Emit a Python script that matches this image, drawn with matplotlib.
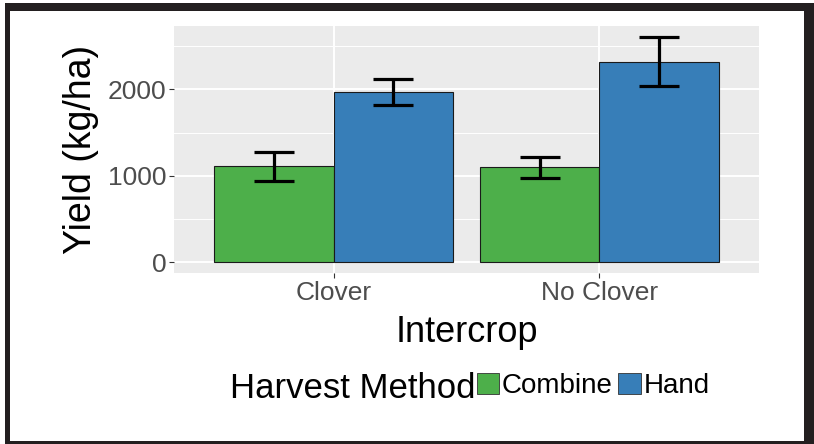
import matplotlib
matplotlib.use("Agg")
import matplotlib.pyplot as plt
from matplotlib.patches import Rectangle, Patch
import numpy as np

plt.rcParams['font.family'] = ['Liberation Sans', 'DejaVu Sans']

intercrops = ["Clover", "No Clover"]
methods = ["Combine", "Hand"]
yield_combine = [1110, 1096]
yield_hand = [1970, 2320]
err_combine = [170, 121]
err_hand = [148, 285]
colors = {"Combine": "#4DAF4A", "Hand": "#377EB8"}
yticks = [0, 1000, 2000]
yminor = [500, 1500, 2500]

W, H = 814, 444
fig = plt.figure(figsize=(W / 100, H / 100), dpi=100)

# outer frame
fc = "#231F20"
for (x0, y0, w, h) in [(5, 3, 809, 8), (5, 3, 5, 441), (804, 3, 10, 441), (5, 441, 809, 3)]:
    fig.patches.append(Rectangle((x0 / W, 1 - (y0 + h) / H), w / W, h / H,
                                 transform=fig.transFigure, facecolor=fc, edgecolor='none'))

ax = fig.add_axes([174 / W, 1 - 273 / H, (759 - 174) / W, (273 - 26) / H])
ax.set_facecolor("#EBEBEB")
for s in ax.spines.values():
    s.set_visible(False)

x = np.arange(1, len(intercrops) + 1)
bw = 0.45
series = [(yield_combine, err_combine, "Combine"), (yield_hand, err_hand, "Hand")]
for i, (vals, errs, name) in enumerate(series):
    pos = x + (i - 0.5) * bw
    ax.bar(pos, vals, width=bw, color=colors[name], edgecolor="#1a1a1a", linewidth=0.8, zorder=3)
    ax.errorbar(pos, vals, yerr=errs, fmt='none', ecolor='black', elinewidth=2.3,
                capsize=14.4, capthick=2.3, zorder=4)

ax.set_xlim(0.4, 2.6)
ax.set_ylim(-124, 2732)
ax.set_xticks(x)
ax.set_xticklabels(intercrops)
ax.set_yticks(yticks)
ax.set_yticks(yminor, minor=True)
ax.grid(True, which='major', color='white', linewidth=1.4, zorder=0)
ax.grid(True, which='minor', axis='y', color='white', linewidth=0.7, zorder=0)
ax.set_axisbelow(True)
ax.tick_params(axis='both', which='major', length=3.6, width=0.8, color='#333333',
               labelcolor='#4D4D4D', labelsize=19, pad=2)
ax.tick_params(axis='y', which='minor', length=0)
ax.set_ylabel("Yield (kg/ha)", fontsize=27, color='black', labelpad=6)
ax.set_xlabel("Intercrop", fontsize=26, color='black', labelpad=7)

# legend
fig.text(230 / W, 1 - 388 / H, "Harvest Method", fontsize=25, color='black',
         ha='left', va='center')
handles = [Patch(facecolor=colors[m], edgecolor='#333333', linewidth=0.6, label=m) for m in methods]
fig.legend(handles=handles, loc='center left', bbox_to_anchor=(477 / W, 1 - 386 / H),
           ncol=2, frameon=False, fontsize=20, handlelength=0.8, handleheight=0.78,
           handletextpad=0.1, columnspacing=0.2, borderaxespad=0, borderpad=0)

fig.savefig("out.png", dpi=100)
